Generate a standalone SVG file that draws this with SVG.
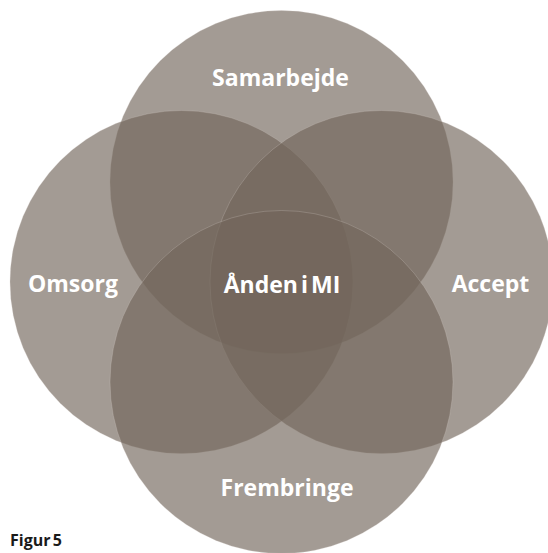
<svg xmlns="http://www.w3.org/2000/svg" width="548" height="553" viewBox="0 0 548 553">
<style>
.c{fill:#71655a;fill-opacity:0.65;stroke:#d8d2cc;stroke-opacity:0.35;stroke-width:0.7}
.t{font-family:"Open Sans","DejaVu Sans",sans-serif;font-weight:700;font-size:23px;fill:#ffffff;text-anchor:middle}
.f{font-family:"Open Sans","DejaVu Sans",sans-serif;font-weight:700;font-size:16px;fill:#1a1a1a}
</style>
<rect width="548" height="553" fill="#ffffff"/>
<g id="samarbejde"><circle class="c" cx="281.5" cy="182" r="171.5"/></g>
<g id="omsorg"><circle class="c" cx="181.5" cy="282" r="171.5"/></g>
<g id="accept"><circle class="c" cx="381.5" cy="282" r="171.5"/></g>
<g id="frembringe"><circle class="c" cx="281.5" cy="382" r="171.5"/></g>
<g id="labels">
<text class="t" x="280.5" y="85.5">Samarbejde</text>
<text class="t" x="73" y="292">Omsorg</text>
<text class="t" x="490.5" y="292">Accept</text>
<text class="t" x="282" y="293" word-spacing="-3">Ånden i MI</text>
<text class="t" x="287" y="495.5">Frembringe</text>
</g>
<text class="f" x="10" y="546" word-spacing="-2">Figur 5</text>
</svg>
